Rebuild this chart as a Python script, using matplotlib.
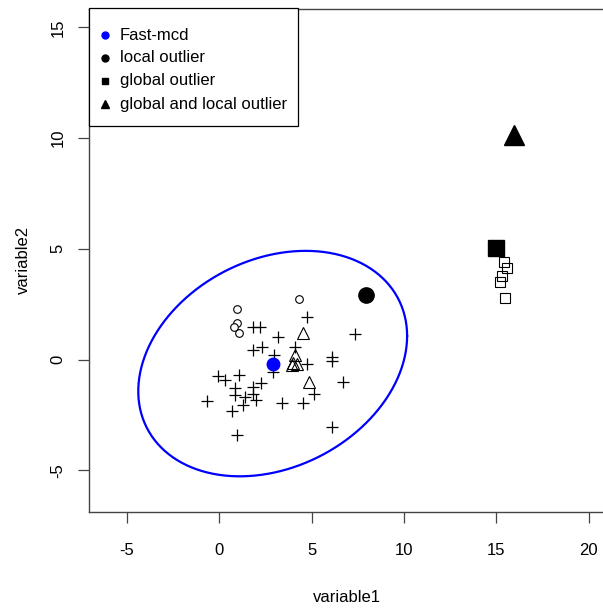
import numpy as np
import matplotlib.pyplot as plt
from matplotlib.lines import Line2D
from matplotlib.patches import Rectangle

plt.rcParams['font.family'] = ['Liberation Sans', 'DejaVu Sans']
plt.rcParams['axes.unicode_minus'] = False

# regular observations (plus signs)
reg_x = [-0.68, -0.05, 0.31, 1.08, 0.85, 0.85, 1.39, 1.27, 0.67, 0.94, 1.84, 1.80,
         1.99, 2.24, 1.84, 2.29, 1.84, 2.19, 3.19, 2.96, 2.89, 4.10, 4.73, 4.73,
         3.38, 4.55, 5.13, 6.71, 6.12, 6.12, 7.35, 6.09]
reg_y = [-1.86, -0.74, -0.93, -0.70, -1.30, -1.60, -1.68, -2.05, -2.31, -3.41, -1.23, -1.56,
         -1.83, -1.05, 0.43, 0.58, 1.45, 1.45, 1.00, 0.20, -0.55, 0.58, 1.91, -0.20,
         -1.95, -1.95, -1.56, -1.00, 0.13, -0.05, 1.14, -3.03]

# local outliers (small open circles)
loc_x = [0.94, 0.94, 0.79, 1.05, 4.33]
loc_y = [2.27, 1.66, 1.45, 1.21, 2.72]

# global outliers (small open squares)
glob_x = [15.40, 15.60, 15.30, 15.18, 15.46]
glob_y = [4.40, 4.13, 3.77, 3.51, 2.79]

# global and local outliers (small open triangles)
both_x = [4.55, 4.88, 4.09, 4.00, 3.92, 4.19]
both_y = [1.21, -1.00, 0.20, -0.17, -0.25, -0.20]

# highlighted points
big_local = (7.94, 2.91)
big_global = (14.96, 5.02)
big_both = (15.97, 10.13)

# Fast-MCD estimate and tolerance ellipse (97.5 % chi-square, 2 df)
mcd_center = np.array([2.89, -0.18])
mcd_cov = np.array([[7.18, 1.23], [1.23, 3.51]])
chi2_q = 7.378

legend_labels = ['Fast-mcd', 'local outlier', 'global outlier', 'global and local outlier']
legend_markers = ['o', 'o', 's', '^']
legend_colors = ['#0000ff', 'black', 'black', 'black']

fig = plt.figure(figsize=(6.03, 6.09), dpi=100)
W, H = 603, 609
ax = fig.add_axes([89.3 / W, (H - 512) / H, (605.3 - 89.3) / W, (512 - 8.5) / H])

t = np.linspace(0, 2 * np.pi, 400)
L = np.linalg.cholesky(mcd_cov * chi2_q)
ell = mcd_center[:, None] + L @ np.vstack([np.cos(t), np.sin(t)])
ax.plot(ell[0], ell[1], color='#0000ff', lw=1.6)

ax.plot(reg_x, reg_y, '+', color='black', ms=9, mew=0.9, ls='none')
ax.plot(loc_x, loc_y, 'o', mfc='white', mec='black', ms=5.5, mew=0.8, ls='none')
ax.plot(glob_x, glob_y, 's', mfc='none', mec='black', ms=6.5, mew=0.8, ls='none')
ax.plot(both_x, both_y, '^', mfc='none', mec='black', ms=8, mew=0.8, ls='none')

ax.plot(*big_local, 'o', color='black', ms=11)
ax.plot(*big_global, 's', color='black', ms=12)
ax.plot(*big_both, '^', color='black', ms=15)
ax.plot(*mcd_center, 'o', color='#0000ff', ms=9)

ax.set_xlim(-7.04, 20.9)
ax.set_ylim(-6.88, 15.85)
ax.set_xticks([-5, 0, 5, 10, 15, 20])
ax.set_yticks([-5, 0, 5, 10, 15])
ax.tick_params(length=8, width=0.9, color='#444444', labelsize=12)
ax.tick_params(axis='x', pad=14)
ax.tick_params(axis='y', pad=9)
for lab in ax.get_yticklabels():
    lab.set_rotation(90)
    lab.set_va('center')
for s in ax.spines.values():
    s.set_color('#444444')
    s.set_linewidth(1)

ax.set_xlabel('variable1', fontsize=12, labelpad=23)
ax.set_ylabel('variable2', fontsize=12, labelpad=14)

# legend box drawn by hand (R style: more room above the first row)
fig.add_artist(Rectangle((89.3 / W, 1 - 126 / H), (298 - 89.3) / W, (126 - 8.5) / H,
                         transform=fig.transFigure, facecolor='white',
                         edgecolor='black', lw=0.9, zorder=5))
row_y = [35, 57.5, 80.5, 104]
for yy, lab, mk, col in zip(row_y, legend_labels, legend_markers, legend_colors):
    fig.add_artist(Line2D([105 / W], [1 - yy / H], marker=mk, color=col, ls='none',
                          ms=6 if mk == '^' else 5, transform=fig.transFigure, zorder=6))
    fig.text(120 / W, 1 - yy / H, lab, fontsize=12, va='center', ha='left', zorder=6)

fig.savefig('out.png', dpi=100)
